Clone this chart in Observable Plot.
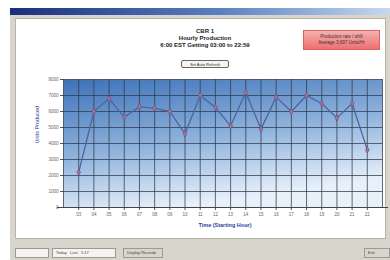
<!DOCTYPE html>
<html>
<head>
<meta charset="utf-8">
<script src="https://cdn.jsdelivr.net/npm/d3@7"></script>
<script src="https://cdn.jsdelivr.net/npm/@observablehq/plot@0.6"></script>
<style>
  html, body { margin: 0; padding: 0; background: #fff; }
  body { width: 390px; height: 260px; position: relative; overflow: hidden; font-family: "Liberation Sans", Arial, sans-serif; }
  .abs { position: absolute; }
  #win { left: 10px; top: 8px; width: 380px; height: 252px; background: #d8d5cc; }
  #titlebar { left: 10px; top: 8px; width: 380px; height: 7px; background: linear-gradient(to right, #1a2f7a, #5a7fc0 55%, #c8d8ee); }
  #panel { left: 15px; top: 18px; width: 371px; height: 221px; background: #fff; border: 1px solid #b8b4a8; box-sizing: border-box; }
  #titles { left: 110px; top: 28px; width: 190px; text-align: center; font-size: 6px; font-weight: bold; color: #222; line-height: 7px; }
  #btn { left: 181px; top: 60px; width: 48px; height: 8px; border: 1px solid #666; border-radius: 2px; background: #f4f4f0; font-size: 4px; text-align: center; line-height: 7px; color: #333; box-sizing: border-box; }
  #redbox { left: 303px; top: 30px; width: 77px; height: 20px; background: linear-gradient(#f6b0b0, #ee7070); border: 1px solid #e06060; box-sizing: border-box; font-size: 4.5px; text-align: center; color: #333; line-height: 6px; padding-top: 3px; }
  #bottom { left: 10px; top: 240px; width: 380px; height: 20px; background: #d8d5cc; }
  .box { background: #f4f3ee; border: 1px solid #999; box-sizing: border-box; font-size: 4px; line-height: 8px; color: #444; padding-left: 3px; white-space: nowrap; overflow: hidden; }
  #chart { left: 0; top: 0; }
</style>
</head>
<body>
<div id="win" class="abs"></div>
<div id="titlebar" class="abs"></div>
<div id="panel" class="abs"></div>
<div id="bottom" class="abs"></div>
<div class="abs box" style="left:15px;top:248px;width:34px;height:10px;"></div>
<div class="abs box" style="left:52px;top:248px;width:64px;height:10px;">Today &nbsp; Last &nbsp; 5:17</div>
<div class="abs box" style="left:123px;top:248px;width:40px;height:10px;background:#d8d5cc;">Display Records</div>
<div class="abs box" style="left:364px;top:248px;width:26px;height:10px;background:#d8d5cc;">Exit</div>
<div id="titles" class="abs"></div>
<div id="btn" class="abs">Set Auto Refresh</div>
<div id="redbox" class="abs">Production rate / shift<br>Average 3,697 Units/Hr</div>
<div id="chart" class="abs"></div>
<script>
const titleLines = ["CBR 1", "Hourly Production", "6:00 EST Getting 03:00 to 22:59"];
const hours = ["03","04","05","06","07","08","09","10","11","12","13","14","15","16","17","18","19","20","21","22"];
const units = [2200, 6000, 6800, 5650, 6300, 6200, 6000, 4600, 7000, 6250, 5100, 7200, 4900, 6900, 6000, 7000, 6500, 5600, 6500, 3600];
const yTicks = [0, 1000, 2000, 3000, 4000, 5000, 6000, 7000, 8000];
const yLabel = "Units Produced";
const xLabel = "Time (Starting Hour)";

document.getElementById("titles").innerHTML = titleLines.join("<br>");

const data = hours.map((h, i) => ({pos: i + 1, hour: h, units: units[i]}));

const defs = () => {
  const d = d3.create("svg:defs");
  const g = d.append("linearGradient").attr("id", "bg").attr("x1", "0").attr("y1", "0").attr("x2", "0.35").attr("y2", "1");
  g.append("stop").attr("offset", "0%").attr("stop-color", "#3d72b8");
  g.append("stop").attr("offset", "55%").attr("stop-color", "#8fb3dc");
  g.append("stop").attr("offset", "100%").attr("stop-color", "#e8f0fa");
  return d.node();
};

const chart = Plot.plot({
  width: 390,
  height: 260,
  marginLeft: 63,
  marginRight: 8,
  marginTop: 79,
  marginBottom: 53,
  style: {background: "transparent", fontFamily: "Liberation Sans, Arial, sans-serif"},
  x: {domain: [0, 21], axis: null, label: null},
  y: {domain: [0, 8000], axis: null, label: null},
  marks: [
    defs,
    Plot.frame({fill: "url(#bg)", stroke: "none"}),
    Plot.ruleX(d3.range(0, 22), {stroke: "#2e3a4e", strokeOpacity: 0.75, strokeWidth: 1}),
    Plot.ruleY(yTicks, {stroke: "#2e3a4e", strokeOpacity: 0.75, strokeWidth: 1}),
    Plot.axisY(yTicks, {label: null, tickSize: 3, tickPadding: 2, fontSize: 4.5, color: "#666", tickFormat: d => d3.format("d")(d), stroke: "#555"}),
    Plot.axisX(data.map(d => d.pos), {label: null, tickSize: 3, tickPadding: 2, fontSize: 4.5, color: "#666", tickFormat: p => hours[p - 1], stroke: "#555"}),
    Plot.ruleY([0], {x1: -0.4, x2: 21.4, stroke: "#444"}),
    Plot.line(data, {x: "pos", y: "units", stroke: "#4f63a0", strokeWidth: 1.3}),
    Plot.dot(data, {x: "pos", y: "units", symbol: "diamond", r: 2, fill: "#b86a8c", stroke: "#4a4f7a", strokeWidth: 0.5}),
    Plot.text([yLabel], {frameAnchor: "left", dx: -26, rotate: -90, fontSize: 5.5, fill: "#2a3fa0"}),
    Plot.text([xLabel], {frameAnchor: "bottom", dy: 19, dx: 2, fontSize: 5.5, fill: "#2a3fa0", fontWeight: "bold"})
  ]
});
document.getElementById("chart").appendChild(chart);
</script>
</body>
</html>
